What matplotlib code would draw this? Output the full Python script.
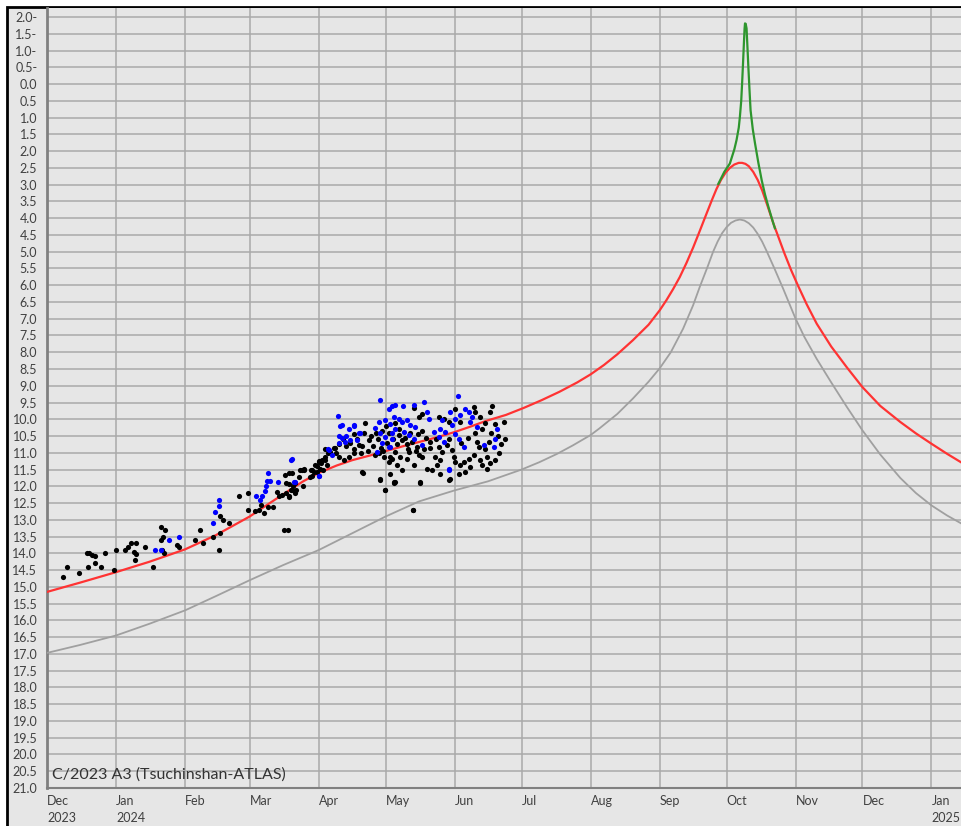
import numpy as np
import pandas as pd
import matplotlib
matplotlib.use("Agg")
import matplotlib.pyplot as plt
import matplotlib.transforms as mtransforms
from matplotlib.patches import Rectangle

plt.rcParams['font.family'] = ['Lato', 'DejaVu Sans']

start = pd.Timestamp('2023-12-01')

# predicted magnitude (red), nucleus-ish curve (gray), forward scattering (green)
# days counted from 2023-12-01
red_days = [0, 15, 31, 46, 62, 76, 91, 100, 108, 115, 122, 130, 137, 145, 152, 160,
            168, 176, 183, 190, 197, 206, 214, 222, 230, 238, 244, 250, 256, 263, 270,
            275, 278, 281, 284, 287, 290, 293, 296, 298.5, 300.5, 302.5, 304.5, 306.5,
            308.5, 310.5, 312, 313.5, 315, 317, 319, 321, 323.5, 326, 328.5, 331, 334,
            337, 341, 345.5, 352, 359, 366, 374, 383, 390, 397, 404, 410.7]
red_mag = [15.15, 14.87, 14.56, 14.25, 13.88, 13.45, 12.9, 12.5, 12.15, 11.85, 11.6,
           11.38, 11.22, 11.08, 10.95, 10.8, 10.66, 10.52, 10.38, 10.22, 10.05, 9.87,
           9.66, 9.43, 9.18, 8.9, 8.66, 8.38, 8.06, 7.64, 7.18, 6.75, 6.45, 6.12, 5.76,
           5.34, 4.88, 4.38, 3.87, 3.45, 3.13, 2.86, 2.65, 2.5, 2.4, 2.35, 2.35, 2.38,
           2.45, 2.62, 2.86, 3.17, 3.65, 4.15, 4.6, 5.05, 5.55, 6.0, 6.57, 7.15, 7.83,
           8.45, 9.04, 9.6, 10.08, 10.42, 10.73, 11.03, 11.3]

gray_days = [0, 15, 31, 46, 62, 76, 91, 106, 122, 137, 152, 167, 183, 198, 213, 221,
             229, 236, 244, 248, 256, 263, 270, 275, 280, 285.5, 290, 293, 296.5, 299,
             301, 303, 305, 307, 309, 311, 313, 315, 317, 319, 321, 323, 326.5, 330.4,
             336, 340, 345.5, 352, 359, 366, 374, 383, 390, 397, 404, 410.7]
gray_mag = [16.97, 16.73, 16.45, 16.1, 15.7, 15.27, 14.8, 14.35, 13.9, 13.4, 12.9, 12.45,
            12.12, 11.85, 11.5, 11.28, 11.03, 10.78, 10.47, 10.27, 9.84, 9.38, 8.88, 8.48,
            8.0, 7.3, 6.6, 6.05, 5.45, 5.0, 4.7, 4.45, 4.27, 4.14, 4.07, 4.04, 4.07,
            4.15, 4.28, 4.47, 4.7, 4.98, 5.5, 6.1, 7.0, 7.55, 8.2, 8.9, 9.63, 10.33,
            11.05, 11.75, 12.2, 12.57, 12.87, 13.12]

green_days = [301.3, 304, 306.5, 308.5, 309.5, 310.5, 311, 311.6, 312, 312.4, 312.8,
              313.1, 313.3, 313.6, 314, 314.4, 314.8, 315.3, 315.8, 316.8, 317.8, 319.3,
              320.8, 322.3, 323.8, 325.3, 326.7]
green_mag = [2.98, 2.62, 2.37, 1.95, 1.67, 1.3, 0.98, 0.5, -0.02, -0.6, -1.21, -1.65,
             -1.81, -1.8, -1.66, -1.1, -0.52, 0.15, 0.78, 1.35, 1.77, 2.35, 2.87, 3.3,
             3.66, 4.0, 4.3]

# observations (day, mag)
black_obs = [
    (7.0, 14.70), (9.0, 14.40), (14.2, 14.60), (17.9, 14.00), (19.0, 13.98), (20.1, 14.05),
    (21.4, 14.08), (18.2, 14.40), (21.4, 14.30), (24.3, 14.40), (26.2, 14.00), (30.2, 14.50),
    (31.0, 13.90), (35.0, 13.90), (36.3, 13.80), (37.9, 13.70), (39.8, 13.70), (39.0, 13.95),
    (40.1, 14.02), (39.3, 14.20), (44.1, 13.80), (47.8, 14.40), (51.3, 13.20), (52.9, 13.30),
    (51.0, 13.60), (52.2, 13.52), (51.8, 13.90), (52.6, 14.00), (58.2, 13.75), (59.4, 13.82),
    (66.3, 13.60), (68.7, 13.30), (69.8, 13.70), (74.6, 13.50), (77.5, 13.40), (77.2, 13.90),
    (77.5, 12.90), (79.1, 13.00), (81.5, 13.10), (86.0, 12.30), (90.0, 12.20), (90.0, 12.70),
    (93.5, 12.75), (95.1, 12.70), (97.5, 12.80), (96.2, 12.55), (99.1, 12.62), (101.5, 12.62),
    (103.1, 12.18), (104.2, 12.30), (105.5, 12.25), (107.1, 12.20), (108.4, 12.30), (107.1, 11.90),
    (109.5, 12.10), (110.6, 12.00), (111.9, 12.10), (111.1, 11.90), (114.7, 11.98), (108.7, 11.60),
    (106.8, 11.65), (106.3, 13.30), (108.2, 13.30), (114.3, 11.50), (115.5, 11.48), (118.3, 11.50),
    (119.1, 11.68), (119.9, 11.58), (121.2, 11.40), (122.3, 11.25), (123.1, 11.30), (124.7, 11.20),
    (123.9, 11.50), (125.5, 11.35), (126.3, 11.00), (124.7, 10.90), (128.7, 10.85), (129.5, 11.00),
    (131.1, 10.75), (132.8, 10.60), (134.4, 10.80), (136.0, 10.70), (137.6, 10.90), (139.2, 10.60),
    (140.8, 11.00), (141.6, 10.80), (137.6, 10.45), (141.9, 11.60),
    (142.9, 10.11), (142.1, 10.42), (144.4, 10.62), (139.9, 10.77), (137.6, 11.02), (135.4, 11.12),
    (133.2, 11.22), (130.9, 11.12), (129.4, 10.87), (127.2, 10.97), (124.9, 11.12), (123.4, 11.22),
    (121.9, 11.27), (120.5, 11.37), (122.7, 11.47), (121.2, 11.57), (119.0, 11.52), (118.2, 11.72),
    (115.2, 11.52), (113.7, 11.52), (113.0, 11.72), (110.0, 11.60), (108.5, 11.92), (110.0, 12.12),
    (111.5, 12.21), (108.5, 12.31), (141.4, 11.57), (147.1, 11.07), (148.9, 11.02), (151.1, 11.12),
    (153.3, 11.27), (154.8, 11.17), (149.6, 11.77), (151.8, 12.10), (156.3, 11.87), (154.1, 11.62),
    (145.5, 10.50), (146.5, 10.80), (148.5, 10.60), (150.5, 10.35), (144.0, 10.95), (147.5, 10.40),
    (150.0, 10.85),
    (164.6, 9.66), (166.9, 9.93), (168.3, 9.83), (175.8, 9.93), (178.1, 9.98), (180.3, 10.08),
    (183.3, 9.68), (185.5, 10.08), (191.5, 9.63), (192.3, 9.78), (199.0, 9.78), (199.7, 9.60),
    (201.2, 10.13), (205.0, 10.08), (195.3, 10.28), (194.5, 9.93), (157.9, 10.48), (159.4, 10.63),
    (161.6, 10.73), (163.9, 10.68), (166.1, 10.83), (156.4, 10.98), (158.6, 11.12), (161.6, 11.17),
    (157.1, 11.37), (159.4, 11.52), (164.6, 11.37), (166.9, 11.07), (168.3, 11.12), (170.6, 11.47),
    (172.8, 11.52), (175.1, 11.37), (176.6, 11.22), (177.3, 10.98), (175.8, 10.83), (179.6, 10.78),
    (181.8, 10.93), (182.5, 11.12), (183.3, 11.27), (185.5, 11.37), (187.0, 11.27), (189.3, 11.17),
    (191.5, 11.07), (193.0, 10.68), (193.8, 10.83), (196.7, 10.88), (198.2, 10.68), (197.5, 11.12),
    (194.5, 11.22), (195.3, 11.37), (190.0, 11.42), (187.8, 11.57), (197.5, 11.47), (176.6, 11.62),
    (180.3, 11.82), (184.8, 11.62), (155.6, 11.89), (167.6, 11.90), (164.2, 12.72), (154.1, 11.12),
    (174.3, 11.12), (172.1, 10.68), (162.4, 10.98),
    (158.0, 10.30), (160.5, 10.55), (155.5, 10.60), (163.0, 10.40), (166.5, 10.45), (168.5, 10.35),
    (170.0, 10.55), (157.0, 10.75), (162.0, 10.90), (165.5, 10.95), (169.0, 10.90), (172.0, 10.85),
    (152.5, 10.70), (151.0, 10.95), (153.5, 10.40), (152.0, 10.20), (156.0, 10.10), (174.5, 10.60),
    (180.5, 10.60), (186.0, 10.70), (189.0, 10.55), (192.0, 10.40), (196.5, 10.10), (199.5, 10.40),
    (202.5, 10.50), (204.0, 10.75), (203.0, 11.00), (201.0, 11.20), (199.0, 11.30), (205.5, 10.60),
    (149.6, 11.80), (151.7, 12.10), (155.7, 11.88), (164.5, 12.70), (167.2, 11.88), (180.8, 11.78),
]

blue_obs = [
    (48.6, 13.90), (51.0, 13.90), (54.6, 13.60), (59.4, 13.50), (74.6, 13.10), (75.6, 12.78),
    (77.2, 12.58), (77.2, 12.40), (94.0, 12.30), (95.4, 12.40), (96.7, 12.30), (98.0, 12.15),
    (98.3, 12.00), (98.8, 11.85), (99.1, 11.60), (99.9, 11.85), (103.9, 11.88), (111.1, 11.87),
    (109.8, 11.18), (122.3, 11.70), (126.0, 10.88), (131.1, 10.50), (132.4, 10.18), (134.4, 10.50),
    (137.6, 10.20), (140.0, 10.40),
    (149.6, 9.41), (130.6, 9.91), (131.7, 10.20), (137.6, 10.17), (140.6, 10.40), (135.4, 10.30),
    (132.4, 10.57), (133.9, 10.67), (130.9, 10.72), (136.2, 10.62), (139.1, 10.62), (126.4, 10.92),
    (127.9, 11.07), (109.7, 11.20), (122.3, 11.70), (110.7, 11.87), (153.3, 9.68), (151.8, 10.03),
    (154.1, 10.13), (148.9, 10.08), (147.4, 10.27), (149.6, 10.42), (151.8, 10.52), (154.8, 10.42),
    (150.4, 10.72), (153.3, 10.82), (148.1, 10.97), (156.3, 9.58),
    (184.5, 9.30), (154.9, 9.60), (159.7, 9.60), (164.6, 9.58), (169.1, 9.48), (170.6, 9.78),
    (171.3, 9.98), (155.6, 9.93), (157.9, 9.98), (159.4, 10.08), (161.6, 10.03), (163.1, 10.18),
    (165.4, 10.23), (156.4, 10.28), (160.1, 10.38), (162.4, 10.48), (164.6, 10.58), (154.9, 10.58),
    (168.3, 10.78), (154.1, 10.83), (176.6, 10.28), (178.8, 10.38), (181.1, 9.78), (183.3, 9.98),
    (185.5, 9.88), (187.8, 9.68), (189.3, 9.78), (190.8, 9.93), (193.0, 10.23), (183.3, 10.43),
    (184.8, 10.58), (187.0, 10.83), (180.3, 11.52), (196.0, 10.78), (201.2, 10.58), (200.5, 10.83),
    (202.0, 10.28), (175.8, 10.53), (178.1, 10.68), (181.8, 10.18), (173.6, 10.38), (190.0, 10.08),
    (177.3, 10.03), (180.3, 11.48),
]

month_ticks = pd.date_range('2023-12-01', '2025-01-01', freq='MS')
year_shown = {pd.Timestamp('2023-12-01'), pd.Timestamp('2024-01-01'), pd.Timestamp('2025-01-01')}
month_labels = [d.strftime('%b') + ('\n' + str(d.year) if d in year_shown else '')
                for d in month_ticks]


def to_dates(days):
    return start + pd.to_timedelta(np.asarray(days, dtype=float), unit='D')


fig = plt.figure(figsize=(9.62, 8.26), dpi=100)
fig.patch.set_facecolor('white')
bg = '#e6e6e6'
fig.add_artist(Rectangle((7 / 962, -0.1), 1.2, 1 - 7 / 826 + 0.1, transform=fig.transFigure,
                         facecolor=bg, edgecolor='black', linewidth=2, zorder=-10))

ax = fig.add_axes([47 / 962, 38 / 826, 1 - 47 / 962, (788 - 8) / 826])
ax.set_facecolor(bg)

ax.set_xlim(to_dates([0])[0], to_dates([410.7])[0])
ax.set_ylim(21.0, -2.27)

yt = np.arange(-2.0, 21.01, 0.5)
ax.set_yticks(yt)
ax.set_yticklabels([f"{abs(v):.1f}-" if v < 0 else f"{v:.1f}" for v in yt],
                   fontsize=9, color='#404040')
ax.set_xticks(month_ticks)
ax.set_xticklabels(month_labels, fontsize=9, color='#404040', ha='left', va='top',
                   linespacing=1.5)
off = mtransforms.ScaledTranslation(3 / 100, 0, fig.dpi_scale_trans)
for lab in ax.get_xticklabels():
    lab.set_transform(lab.get_transform() + off)
ax.tick_params(length=0, pad=5)
ax.tick_params(axis='y', pad=7)

ax.grid(True, color='#a9a9a9', linewidth=1.1)
ax.set_axisbelow(True)

for s in ['top', 'right']:
    ax.spines[s].set_visible(False)
ax.spines['left'].set_color('#808080')
ax.spines['left'].set_linewidth(2)
ax.spines['bottom'].set_color('#808080')
ax.spines['bottom'].set_linewidth(1.5)

ax.plot(to_dates(gray_days), gray_mag, color='#a0a0a0', lw=1.3, zorder=3)
ax.plot(to_dates(red_days), red_mag, color='#ff3333', lw=1.6, zorder=4)
ax.plot(to_dates(green_days), green_mag, color='#2e962e', lw=1.6, zorder=5)

bd, bm = zip(*black_obs)
ax.scatter(to_dates(bd), bm, s=14, color='black', linewidths=0, zorder=6)
ud, um = zip(*blue_obs)
ax.scatter(to_dates(ud), um, s=14, color='#0000ff', linewidths=0, zorder=7)

ax.text(0.006, 0.008, 'C/2023 A3 (Tsuchinshan-ATLAS)', transform=ax.transAxes,
        fontsize=11.5, color='#333333', ha='left', va='bottom')

fig.savefig('out.png', dpi=100, facecolor=fig.get_facecolor())
